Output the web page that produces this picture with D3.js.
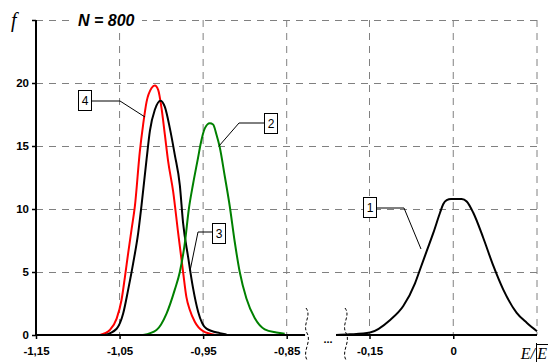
<!DOCTYPE html>
<html>
<head>
<meta charset="utf-8">
<script src="https://cdn.jsdelivr.net/npm/d3@7/dist/d3.min.js"></script>
<style>
  html, body { margin: 0; padding: 0; background: #fff; }
  svg { display: block; }
  .tick text { font-family: "Liberation Sans", Arial, sans-serif; font-weight: bold; font-size: 11.5px; }
</style>
</head>
<body>
<svg id="chart" width="549" height="363"></svg>
<script>
// Distribution curves f(E/|Ē|), N = 800
// Curve 1 lives on the right (broken) segment of the x axis, curves 2-4 on the left one.
const curve1X = [-0.21, -0.185, -0.149, -0.113, -0.0895, -0.0685, -0.0595, -0.0476, -0.0357, -0.0237, -0.0178, -0.0117, -0.004, 0.0151, 0.0241, 0.0359, 0.0538, 0.0717, 0.0896, 0.1136, 0.1316, 0.15];
const curve1F = [0, 0.05, 0.2, 1.2, 2.3, 4.1, 5.2, 6.65, 8.1, 9.7, 10.4, 10.7, 10.8, 10.8, 10.6, 9.7, 7.7, 5.5, 3.6, 1.76, 0.97, 0.3];

const curve2X = [-1.0218, -1.0058, -0.9938, -0.9839, -0.9779, -0.9719, -0.9671, -0.962, -0.956, -0.9532, -0.948, -0.942, -0.9381, -0.934, -0.9301, -0.9241, -0.9181, -0.9122, -0.9062, -0.8982, -0.8883, -0.8763, -0.8623, -0.8524];
const curve2F = [0, 0.4, 1.7, 3.6, 5.0, 7.3, 10.0, 12.0, 14.1, 15.1, 16.4, 16.8, 16.7, 15.9, 14.9, 12.6, 10.2, 7.4, 5.0, 2.9, 1.35, 0.45, 0.2, 0.1];

const curve3X = [-1.0675, -1.0535, -1.0457, -1.0397, -1.0337, -1.0277, -1.0237, -1.0176, -1.0137, -1.0077, -1.0009, -0.9958, -0.9898, -0.9839, -0.9779, -0.974, -0.968, -0.962, -0.956, -0.946, -0.93, -0.922];
const curve3F = [0, 0.5, 1.7, 3.6, 5.7, 8.1, 10.3, 14.0, 16.2, 17.9, 18.6, 18.1, 16.4, 14.3, 11.9, 8.9, 6.2, 3.7, 1.85, 0.5, 0.15, 0.05];

const curve4X = [-1.0735, -1.0616, -1.0535, -1.0476, -1.0436, -1.0397, -1.0356, -1.0317, -1.0257, -1.0218, -1.0177, -1.0117, -1.0078, -1.0038, -0.9998, -0.9958, -0.9919, -0.9859, -0.9799, -0.974, -0.97, -0.966, -0.96, -0.95, -0.935];
const curve4F = [0, 0.4, 1.3, 2.8, 4.6, 6.5, 8.4, 10.2, 14.6, 16.7, 18.5, 19.6, 19.8, 19.45, 18.0, 15.9, 13.8, 11.4, 8.1, 5.0, 3.0, 2.0, 1.05, 0.3, 0];

const leftTicks = [-1.15, -1.05, -0.95, -0.85];
const rightTicks = [-0.15, 0];
const rightGrid = [-0.15, 0, 0.15];
const yTicks = [0, 5, 10, 15, 20, 25];
const yLabels = ["0", "5", "10", "15", "20", ""];

const svg = d3.select("#chart");
const plotTop = 20, plotBottom = 335;

const y = d3.scaleLinear().domain([0, 25]).range([plotBottom, plotTop]);
const xL = d3.scaleLinear().domain([-1.15, -0.85]).range([36, 286.7]);
const xR = d3.scaleLinear().domain([-0.15, 0.15]).range([369.5, 537]);
const xLeftEnd = 36, xRightEnd = xR(0.15);

const fmt = v => (v === 0 ? "0" : d3.format(".2f")(v).replace(".", ",").replace("−", "-"));

// grid
const grid = svg.append("g").attr("stroke", "#808080").attr("stroke-width", 1)
  .attr("stroke-dasharray", "7,6").attr("fill", "none");
yTicks.filter(v => v > 0).forEach(v => {
  grid.append("line").attr("x1", xLeftEnd).attr("x2", xRightEnd)
    .attr("y1", y(v) + 0.5).attr("y2", y(v) + 0.5);
});
leftTicks.filter(v => v > -1.15).forEach(v => {
  grid.append("line").attr("x1", xL(v)).attr("x2", xL(v)).attr("y1", plotTop).attr("y2", plotBottom);
});
rightGrid.forEach(v => {
  grid.append("line").attr("x1", xR(v)).attr("x2", xR(v)).attr("y1", plotTop).attr("y2", plotBottom);
});

// title with white backing over the top grid line
svg.append("rect").attr("x", 74).attr("y", 11).attr("width", 68).attr("height", 18).attr("fill", "#fff");
svg.append("text").attr("x", 78).attr("y", 26)
  .attr("font-family", "Liberation Sans, Arial, sans-serif")
  .attr("font-weight", "bold").attr("font-style", "italic").attr("font-size", 16)
  .text("N = 800");

// curves
const mkLine = xs => d3.line().x(d => xs(d[0])).y(d => y(d[1])).curve(d3.curveMonotoneX);
const series = [
  { xs: curve4X, fs: curve4F, color: "#ff0000", scale: xL },
  { xs: curve3X, fs: curve3F, color: "#000000", scale: xL },
  { xs: curve2X, fs: curve2F, color: "#008000", scale: xL },
  { xs: curve1X, fs: curve1F, color: "#000000", scale: xR }
];
series.forEach(s => {
  svg.append("path").datum(d3.zip(s.xs, s.fs))
    .attr("fill", "none").attr("stroke", s.color).attr("stroke-width", 2)
    .attr("stroke-linejoin", "round")
    .attr("d", mkLine(s.scale));
});

// y axis
const yAxis = d3.axisLeft(y).tickValues(yTicks).tickSize(4).tickPadding(3)
  .tickFormat((d, i) => yLabels[i]);
const gy = svg.append("g").attr("transform", "translate(36,0)").call(yAxis);
gy.select(".domain").remove();
gy.selectAll(".tick line").attr("stroke", "#000").attr("stroke-width", 1.5);
svg.append("line").attr("x1", 36).attr("x2", 36).attr("y1", plotTop).attr("y2", plotBottom + 1)
  .attr("stroke", "#000").attr("stroke-width", 2);

// x axis, two segments
const axL = d3.axisBottom(xL).tickValues(leftTicks).tickSize(4).tickPadding(8).tickFormat(fmt);
const axR = d3.axisBottom(xR).tickValues(rightTicks).tickSize(4).tickPadding(8).tickFormat(fmt);
const gxL = svg.append("g").attr("transform", `translate(0,${plotBottom})`).call(axL);
const gxR = svg.append("g").attr("transform", `translate(0,${plotBottom})`).call(axR);
[gxL, gxR].forEach(g => {
  g.select(".domain").remove();
  g.selectAll(".tick line").attr("stroke", "#000").attr("stroke-width", 1.5);
});
svg.append("line").attr("x1", 35).attr("x2", xL(-0.828)).attr("y1", plotBottom).attr("y2", plotBottom)
  .attr("stroke", "#000").attr("stroke-width", 2);
svg.append("line").attr("x1", xR(-0.21)).attr("x2", xRightEnd).attr("y1", plotBottom).attr("y2", plotBottom)
  .attr("stroke", "#000").attr("stroke-width", 2);

// break marks
[307, 346].forEach(bx => {
  svg.append("path")
    .attr("d", `M${bx - 1},308 C${bx + 5},316 ${bx - 5},324 ${bx},333 C${bx + 5},342 ${bx - 5},351 ${bx},360`)
    .attr("fill", "none").attr("stroke", "#000").attr("stroke-width", 1)
    .attr("stroke-dasharray", "3,2");
});
svg.append("text").attr("x", 328).attr("y", 343).attr("text-anchor", "middle")
  .attr("font-family", "Liberation Sans, Arial, sans-serif").attr("font-weight", "bold")
  .attr("font-size", 11).text("...");

// axis titles
svg.append("text").attr("x", 11).attr("y", 27)
  .attr("font-family", "Liberation Serif, Times New Roman, serif").attr("font-style", "italic")
  .attr("font-size", 20).text("f");
svg.append("text").attr("x", 535).attr("y", 359).attr("text-anchor", "end")
  .attr("font-family", "Liberation Serif, Times New Roman, serif").attr("font-style", "italic")
  .attr("font-size", 16).text("E/");
svg.append("line").attr("x1", 536.5).attr("x2", 536.5).attr("y1", 343).attr("y2", 362)
  .attr("stroke", "#000").attr("stroke-width", 1);
svg.append("line").attr("x1", 537).attr("x2", 548).attr("y1", 344.5).attr("y2", 344.5)
  .attr("stroke", "#000").attr("stroke-width", 1);
svg.append("text").attr("x", 547).attr("y", 359).attr("text-anchor", "end")
  .attr("font-family", "Liberation Serif, Times New Roman, serif").attr("font-style", "italic")
  .attr("font-size", 16).text("E");

// numbered callouts: box, horizontal leader, diagonal to the curve
const callouts = [
  { label: "4", box: [78, 90], pts: [[91, 101], [120, 101], [145, 117]] },
  { label: "3", box: [212, 223], pts: [[212, 232], [198, 232], [190, 271]] },
  { label: "2", box: [264, 113], pts: [[264, 123], [239, 123], [219, 146]] },
  { label: "1", box: [363, 197], pts: [[377, 208], [404, 208], [421, 249]] }
];
callouts.forEach(c => {
  svg.append("path").attr("d", d3.line()(c.pts))
    .attr("fill", "none").attr("stroke", "#000").attr("stroke-width", 1);
  svg.append("rect").attr("x", c.box[0] + 0.5).attr("y", c.box[1] + 0.5)
    .attr("width", 13).attr("height", 20)
    .attr("fill", "#fff").attr("stroke", "#000").attr("stroke-width", 1);
  svg.append("text").attr("x", c.box[0] + 7).attr("y", c.box[1] + 15)
    .attr("text-anchor", "middle")
    .attr("font-family", "Liberation Sans, Arial, sans-serif").attr("font-size", 12)
    .text(c.label);
});
</script>
</body>
</html>
